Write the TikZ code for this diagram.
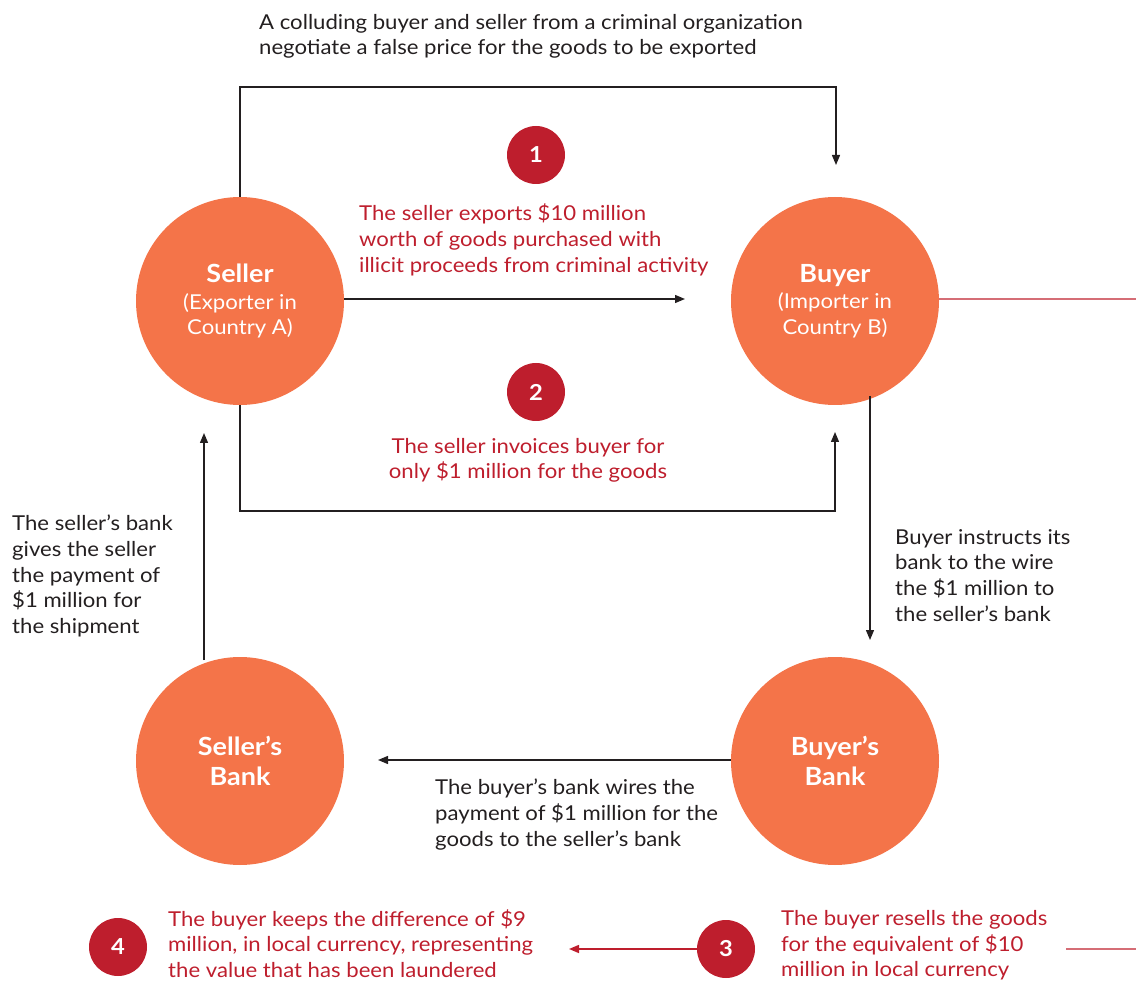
\documentclass[tikz,border=0pt]{standalone}
\usepackage{fontspec}
\setmainfont{Lato}[FakeStretch=1.08]
\usetikzlibrary{arrows.meta}
\definecolor{orng}{HTML}{F47449}
\definecolor{crim}{HTML}{BE1E2D}
\definecolor{ink}{HTML}{231F20}
\begin{document}
\begin{tikzpicture}[x=1pt,y=-1pt,
 party/.style={circle,fill=orng,minimum size=208pt,inner sep=0,text=white,align=center,font=\fontsize{20.5}{25.5}\selectfont},
 num/.style={circle,fill=crim,minimum size=58pt,inner sep=0,text=white,font=\fontsize{22}{26}\selectfont\bfseries},
 conn/.style={draw=ink,line width=1.3pt},
 arr/.style={conn,-{Triangle[length=10pt,width=8pt]}},
 redline/.style={draw=crim!65,line width=1.5pt},
 redarr/.style={draw=crim,line width=1.5pt,-{Triangle[length=10pt,width=8pt]}},
 txt/.style={font=\fontsize{20.5}{25.7}\selectfont,text=ink,align=left,inner sep=0,anchor=north west},
 rtxt/.style={txt,text=crim},
 bankfont/.style={font=\fontsize{25}{30}\selectfont\bfseries}
 ]
\useasboundingbox (0,0) rectangle (1136,981);

% parties
\node[party] (seller) at (240,301) {{\fontsize{25}{28}\selectfont\bfseries Seller}\\[1pt](Exporter in\\Country A)};
\node[party] (buyer) at (835,301) {{\fontsize{25}{28}\selectfont\bfseries Buyer}\\[1pt](Importer in\\Country B)};
\node[party,bankfont] (sbank) at (240,761) {Seller’s\\Bank};
\node[party,bankfont] (bbank) at (835,761) {Buyer’s\\Bank};

% number badges
\node[num] (n1) at (536,155) {1};
\node[num] (n2) at (536,392) {2};
\node[num] (n3) at (726,949) {3};
\node[num] (n4) at (118,947) {4};

% texts
\node[txt] (ttop) at (259,14) {A colluding buyer and seller from a criminal organization\\negotiate a false price for the goods to be exported};
\node[rtxt] (t1) at (359,204) {The seller exports \$10 million\\worth of goods purchased with\\illicit proceeds from criminal activity};
\node[rtxt,align=center,anchor=north] (t2) at (528,438) {The seller invoices buyer for\\only \$1 million for the goods};
\node[txt] (tleft) at (12,515) {The seller’s bank\\gives the seller\\the payment of\\\$1 million for\\the shipment};
\node[txt] (tright) at (895,529) {Buyer instructs its\\bank to the wire\\the \$1 million to\\the seller’s bank};
\node[txt] (tmid) at (435,779) {The buyer’s bank wires the\\payment of \$1 million for the\\goods to the seller’s bank};
\node[rtxt] (t4) at (168,909) {The buyer keeps the difference of \$9\\million, in local currency, representing\\the value that has been laundered};
\node[rtxt] (t3) at (781,910) {The buyer resells the goods\\for the equivalent of \$10\\million in local currency};

% connector end points
\coordinate (topend) at (836,165);
\coordinate (shipend) at (685,299);
\coordinate (invend) at (835,432);
\coordinate (payend) at (204,433);
\coordinate (paystart) at (204,660);
\coordinate (instrstart) at (870,396);
\coordinate (instrend) at (870,640);
\coordinate (wireend) at (378,760);
\coordinate (redright) at (1136,299);
\coordinate (keepend) at (569,949);
\coordinate (resellstart) at (1066,949);
\coordinate (resellend) at (1136,949);

% connectors
\draw[arr] (seller.north) -- (240,87) -| (topend);
\draw[arr] (seller.east |- shipend) -- (shipend);
\draw[arr] (seller.south) -- (240,511) -| (invend);
\draw[arr] (paystart) -- (payend);
\draw[arr] (instrstart) -- (instrend);
\draw[arr] (bbank.west |- wireend) -- (wireend);
\draw[redline] (buyer.east |- redright) -- (redright);
\draw[redarr] (n3.west) -- (keepend);
\draw[redline] (resellstart) -- (resellend);
\end{tikzpicture}
\end{document}
